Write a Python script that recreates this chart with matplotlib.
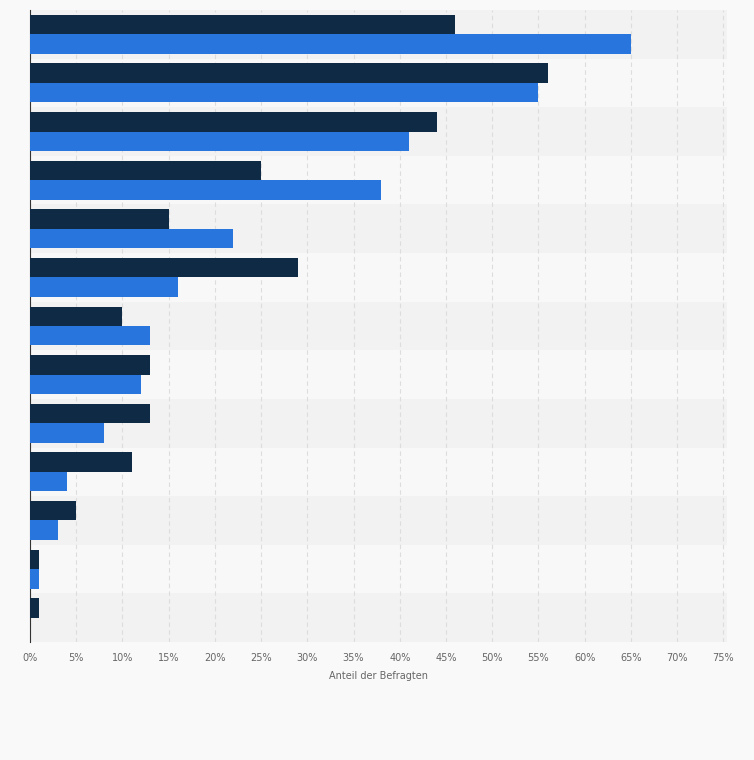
import matplotlib
matplotlib.use("Agg")
import matplotlib.pyplot as plt
import numpy as np

series_dark = [46, 56, 44, 25, 15, 29, 10, 13, 13, 11, 5, 1, 1]
series_blue = [65, 55, 41, 38, 22, 16, 13, 12, 8, 4, 3, 1, 0]
ticks = list(range(0, 80, 5))
tick_labels = [f"{t}%" for t in ticks]

fig = plt.figure(figsize=(7.54, 7.60), dpi=100, facecolor="#f9f9f9")
ax = fig.add_axes([30/754, 1-642/760, 697/754, 632/760])
ax.set_facecolor("#f9f9f9")
n = len(series_dark)
y = np.arange(n)
for i in range(n):
    ax.axhspan(i-0.5, i+0.5, color="#f2f2f2" if i % 2 == 0 else "#f8f8f8", zorder=0, lw=0)
h = 0.4
ax.barh(y - h/2, series_dark, height=h, color="#0f2a44", zorder=3)
ax.barh(y + h/2, series_blue, height=h, color="#2876dd", zorder=3)
ax.set_ylim(n-0.5, -0.5)
ax.set_xlim(0, 75.4)
ax.set_xticks(ticks)
ax.set_xticklabels(tick_labels, fontsize=7, color="#666666")
ax.set_yticks([])
ax.grid(axis="x", color="#dddddd", linestyle=(0, (4, 3)), lw=0.8, zorder=1)
for s in ["top", "right", "bottom"]:
    ax.spines[s].set_visible(False)
ax.spines["left"].set_color("#333333")
ax.tick_params(axis="x", length=0, pad=8)
ax.set_xlabel("Anteil der Befragten", fontsize=7, color="#666666", labelpad=6)
fig.savefig("out.png", dpi=100, facecolor=fig.get_facecolor())
